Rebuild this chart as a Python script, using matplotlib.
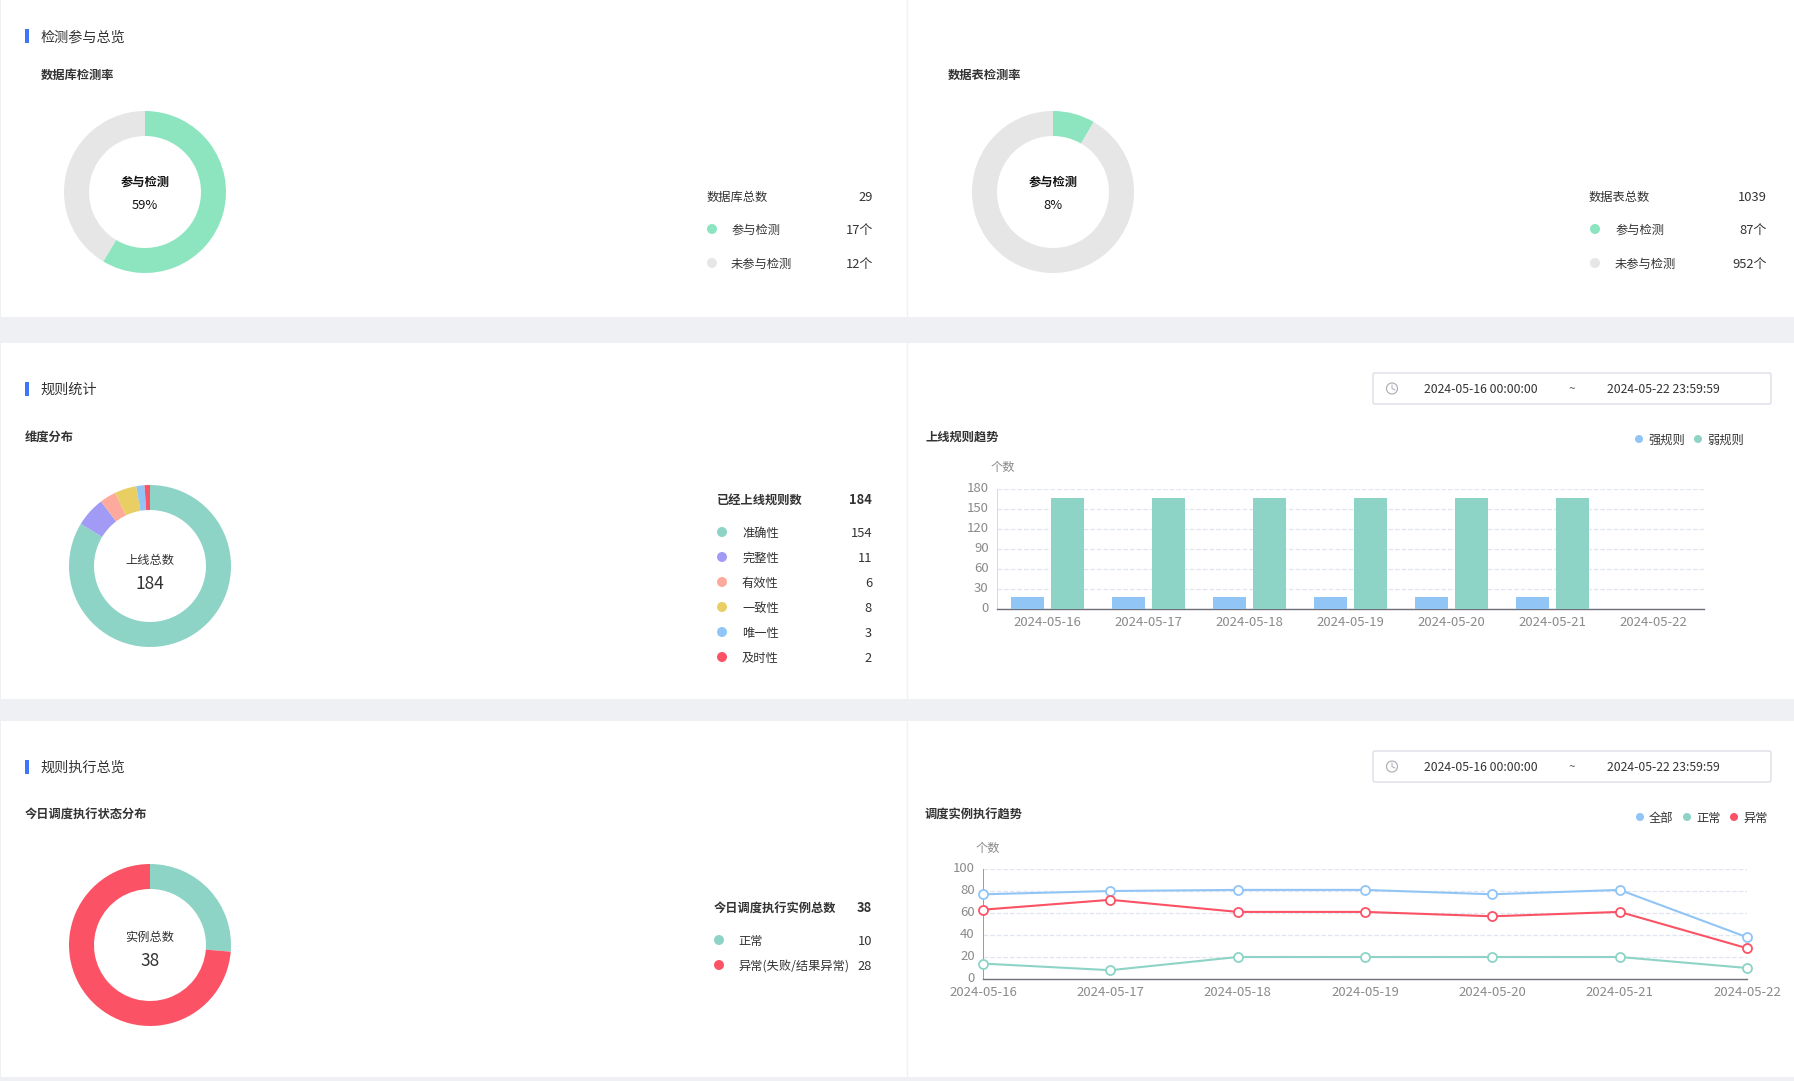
import numpy as np
import matplotlib
matplotlib.use("Agg")
import matplotlib.pyplot as plt
from matplotlib.patches import Rectangle, Circle, FancyBboxPatch
from matplotlib.transforms import ScaledTranslation

plt.rcParams['font.family'] = ['Noto Sans CJK SC', 'DejaVu Sans']

W, H = 1794, 1081

dates = ['2024-05-16', '2024-05-17', '2024-05-18', '2024-05-19', '2024-05-20', '2024-05-21', '2024-05-22']

db_labels = ['参与检测', '未参与检测']
db_values = [17, 12]
table_labels = ['参与检测', '未参与检测']
table_values = [87, 952]
dim_labels = ['准确性', '完整性', '有效性', '一致性', '唯一性', '及时性']
dim_values = [154, 11, 6, 8, 3, 2]
run_labels = ['正常', '异常(失败/结果异常)']
run_values = [10, 28]

strong_rules = [18, 18, 18, 18, 18, 18, 0]
weak_rules = [166, 166, 166, 166, 166, 166, 0]

run_all = [77, 80, 81, 81, 77, 81, 38]
run_ok = [14, 8, 20, 20, 20, 20, 10]
run_bad = [63, 72, 61, 61, 57, 61, 28]

GREEN = '#8ce5bf'
GREY = '#e6e6e6'
TEAL = '#8dd4c6'
BLUE = '#91c5f5'
RED = '#fb5365'
PURPLE = '#a29bf6'
SALMON = '#fda99b'
YELLOW = '#e9cf63'
TITLE_BLUE = '#3d76f9'
DARK = '#333333'
TICK = '#8a8a8a'
GRID = '#e0e6f1'
AXIS = '#6e7079'

fig = plt.figure(figsize=(W / 100, H / 100), dpi=100, facecolor='#eff0f4')
bg = fig.add_axes([0, 0, 1, 1])
bg.set_xlim(0, W)
bg.set_ylim(H, 0)
bg.axis('off')


def txt(x, y, s, size=8.8, color=DARK, ha='left', weight='normal'):
    # CJK glyphs sit a little high with va=center
    bg.text(x, y + 1.2, s, fontsize=size, color=color, ha=ha, va='center', fontweight=weight)


def dot(x, y, color, r=5):
    bg.add_patch(Circle((x, y), r, facecolor=color, edgecolor='none'))


def px_axes(left, top, right, bottom):
    return fig.add_axes([left / W, 1 - bottom / H, (right - left) / W, (bottom - top) / H])


def donut(cx, cy, values, colors):
    ax = px_axes(cx - 81, cy - 81, cx + 81, cy + 81)
    ax.pie(values, colors=colors, startangle=90, counterclock=False, radius=1,
           wedgeprops=dict(width=25 / 81, linewidth=0))
    ax.set_xlim(-1, 1)
    ax.set_ylim(-1, 1)
    ax.patch.set_alpha(0)


def section(y, s):
    bg.add_patch(Rectangle((25, y - 7), 4, 14, facecolor=TITLE_BLUE, edgecolor='none'))
    txt(40.5, y, s, size=10.2)


def date_box(top):
    bg.add_patch(FancyBboxPatch((1373, top), 398, 31, boxstyle='round,pad=0,rounding_size=2',
                                facecolor='white', edgecolor='#dcdfe6', linewidth=1))
    mid = top + 15.5
    bg.add_patch(Circle((1392, mid), 5.5, facecolor='none', edgecolor='#a8abb2', linewidth=0.8))
    bg.plot([1392, 1392, 1395], [mid - 3.5, mid, mid + 1.5], color='#a8abb2', lw=0.7)
    txt(1481, mid, '2024-05-16 00:00:00', size=8.8, ha='center')
    txt(1572, mid, '~', size=8.6, ha='center', color='#666666')
    txt(1663, mid, '2024-05-22 23:59:59', size=8.8, ha='center')


def style_chart(ax, left_color):
    ax.grid(axis='y', color=GRID, ls='--', lw=0.9, zorder=0)
    ax.tick_params(axis='both', length=0, labelsize=9.5, labelcolor=TICK)
    ax.tick_params(axis='y', pad=6)
    ax.tick_params(axis='x', pad=5)
    for side in ['top', 'right']:
        ax.spines[side].set_visible(False)
    ax.spines['left'].set_color(left_color)
    ax.spines['left'].set_linewidth(0.7)
    ax.spines['bottom'].set_color(AXIS)
    ax.spines['bottom'].set_linewidth(1)
    # value labels sit about 2px above their grid lines
    up = ScaledTranslation(0, 2 / 100, fig.dpi_scale_trans)
    for lab in ax.get_yticklabels():
        lab.set_transform(lab.get_transform() + up)


# panels
for top, bottom in [(0, 317), (343, 699), (721, 1077)]:
    bg.add_patch(Rectangle((1, top), W - 1, bottom - top, facecolor='white', edgecolor='none'))
    bg.plot([907, 907], [top, bottom], color='#f0f1f4', lw=1)

# top row
section(36, '检测参与总览')
txt(41, 74, '数据库检测率', weight='bold')
donut(145, 192, db_values, [GREEN, GREY])
txt(145, 181, '参与检测', ha='center', weight='bold', color='#111111')
txt(145, 204, '59%', ha='center', color='#111111', size=9.3)
txt(707, 196, '数据库总数')
txt(873, 196, str(sum(db_values)), ha='right', size=9.3)
for i, (lab, val, col) in enumerate(zip(db_labels, db_values, [GREEN, GREY])):
    y = 229 + i * 34
    dot(712, y, col)
    txt(731, y, lab)
    txt(873, y, '%d个' % val, ha='right', size=9.3)

txt(948, 74, '数据表检测率', weight='bold')
donut(1053, 192, table_values, [GREEN, GREY])
txt(1053, 181, '参与检测', ha='center', weight='bold', color='#111111')
txt(1053, 204, '8%', ha='center', color='#111111', size=9.3)
txt(1589, 196, '数据表总数')
txt(1767, 196, str(sum(table_values)), ha='right', size=9.3)
for i, (lab, val, col) in enumerate(zip(table_labels, table_values, [GREEN, GREY])):
    y = 229 + i * 34
    dot(1595, y, col)
    txt(1615, y, lab)
    txt(1767, y, '%d个' % val, ha='right', size=9.3)

# middle row
section(389, '规则统计')
txt(25, 436, '维度分布', weight='bold')
dim_colors = [TEAL, PURPLE, SALMON, YELLOW, BLUE, RED]
donut(150, 566, dim_values, dim_colors)
txt(150, 559, '上线总数', ha='center')
txt(150, 583, str(sum(dim_values)), ha='center', size=12.5)
txt(717, 499, '已经上线规则数', weight='bold')
txt(872, 499, str(sum(dim_values)), ha='right', weight='bold', size=9.3)
for i, (lab, val, col) in enumerate(zip(dim_labels, dim_values, dim_colors)):
    y = 532 + i * 25
    dot(722, y, col)
    txt(742, y, lab)
    txt(872, y, str(val), ha='right', size=9.3)

date_box(373)
txt(925, 436, '上线规则趋势', weight='bold')
dot(1639, 439, BLUE, r=4)
txt(1648, 439, '强规则')
dot(1698, 439, TEAL, r=4)
txt(1707, 439, '弱规则')
txt(1003, 466, '个数', ha='center', color=TICK)

ax = px_axes(997, 489, 1704, 609)
pos = np.arange(len(dates))
ax.bar(pos - 0.2, strong_rules, 0.33, color=BLUE, zorder=3)
ax.bar(pos + 0.2, weak_rules, 0.33, color=TEAL, zorder=3)
ax.set_xlim(-0.5, 6.5)
ax.set_ylim(0, 180)
ax.set_yticks([0, 30, 60, 90, 120, 150, 180])
ax.set_xticks(pos)
ax.set_xticklabels(dates)
style_chart(ax, '#d5d8de')

# bottom row
section(767, '规则执行总览')
txt(25, 813, '今日调度执行状态分布', weight='bold')
donut(150, 945, run_values, [TEAL, RED])
txt(150, 936, '实例总数', ha='center')
txt(150, 960, str(sum(run_values)), ha='center', size=12.5)
txt(714, 907, '今日调度执行实例总数', weight='bold')
txt(872, 907, str(sum(run_values)), ha='right', weight='bold', size=9.3)
for i, (lab, val, col) in enumerate(zip(run_labels, run_values, [TEAL, RED])):
    y = 940 + i * 25
    dot(719, y, col)
    txt(738, y, lab)
    txt(872, y, str(val), ha='right', size=9.3)

date_box(751)
txt(925, 814, '调度实例执行趋势', weight='bold')
for lab, col, x in zip(['全部', '正常', '异常'], [BLUE, TEAL, RED], [1640, 1687, 1734]):
    dot(x, 817, col, r=4)
    txt(x + 9, 817, lab)
txt(988, 847, '个数', ha='center', color=TICK)

ax2 = px_axes(983, 869, 1747, 979)
ax2.patch.set_alpha(0)
for series, col in [(run_all, BLUE), (run_ok, TEAL), (run_bad, RED)]:
    ax2.plot(dates, series, color=col, lw=1.5, marker='o', ms=6.5, mfc='white', mew=1.3,
             clip_on=False, zorder=3)
ax2.set_xlim(0, 6)
ax2.set_ylim(0, 100)
ax2.set_yticks([0, 20, 40, 60, 80, 100])
style_chart(ax2, '#9a9a9a')

fig.savefig('out.png', dpi=100, facecolor=fig.get_facecolor())
